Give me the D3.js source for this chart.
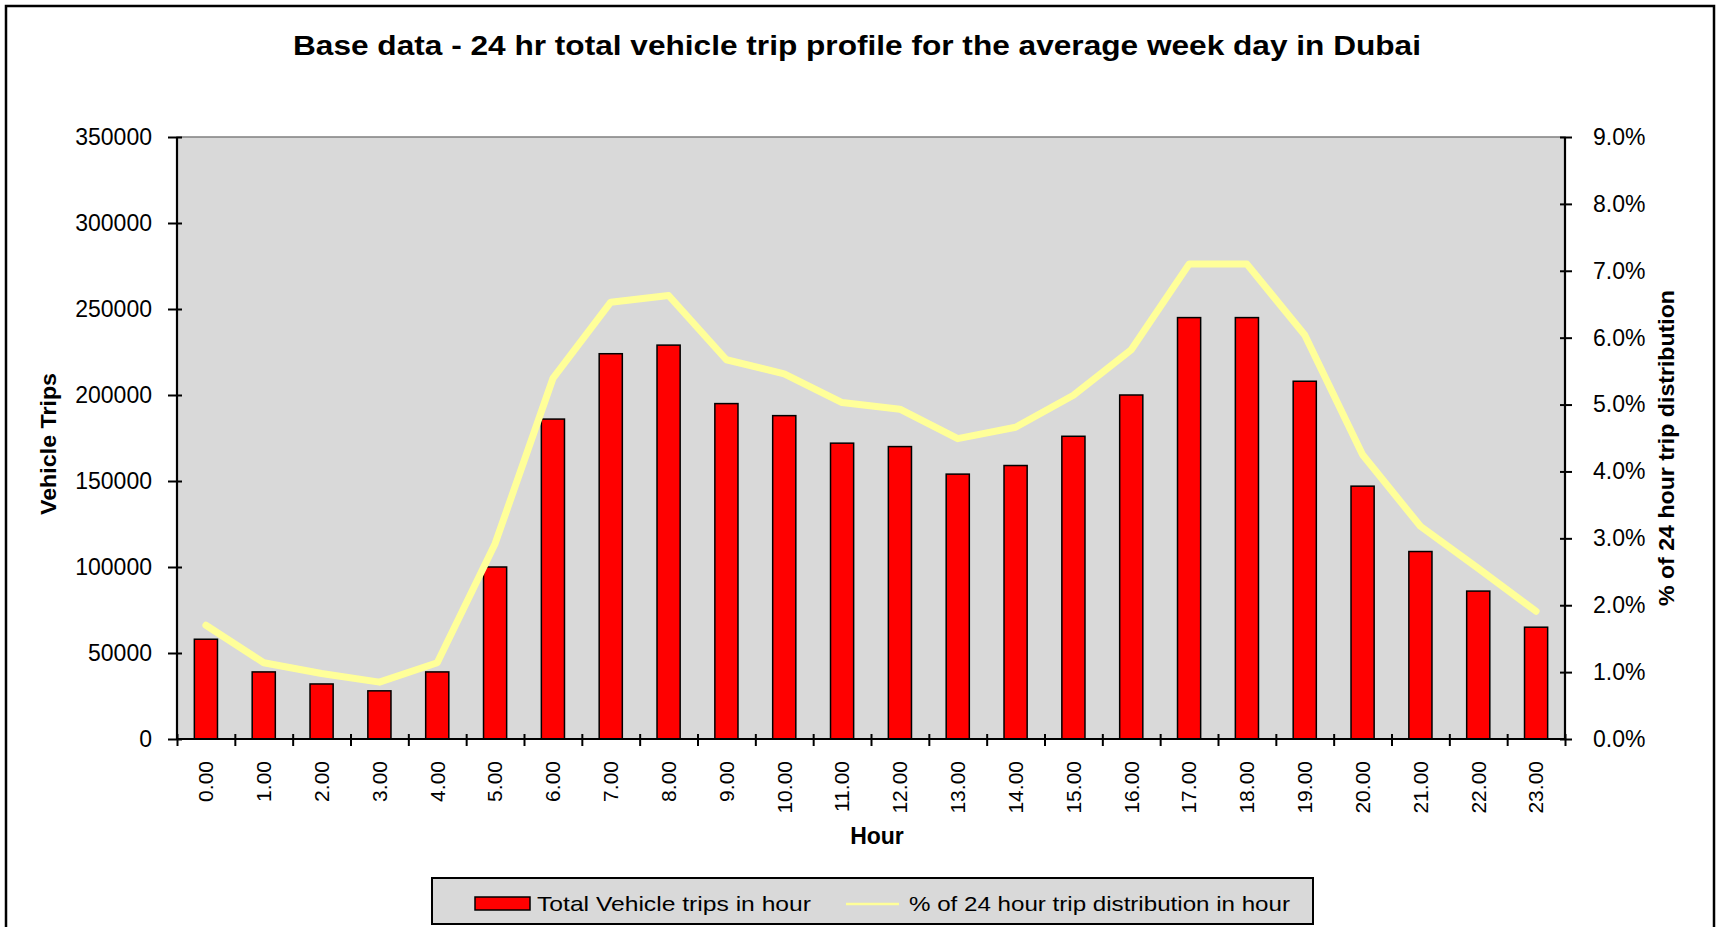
<html>
<head>
<title>Dubai trip profile</title>
<style>
  body { margin: 0; background-color: #ffffff; }
  svg { font-family: "Liberation Sans", Arial, sans-serif; }
</style>
<script src="https://d3js.org/d3.v7.min.js" charset="utf-8"></script>
</head>
<body>
<div id="chartDiv"></div>

<script type="text/javascript">

    // hours on the x axis
    var hours = ["0.00","1.00","2.00","3.00","4.00","5.00","6.00","7.00","8.00","9.00","10.00","11.00",
                 "12.00","13.00","14.00","15.00","16.00","17.00","18.00","19.00","20.00","21.00","22.00","23.00"];

    // Total vehicle trips in hour (bars, left axis)
    var trips = [58000, 39000, 32000, 28000, 39000, 100000, 186000, 224000, 229000, 195000, 188000, 172000,
                 170000, 154000, 159000, 176000, 200000, 245000, 245000, 208000, 147000, 109000, 86000, 65000];

    // % of 24 hour trip distribution in hour (line, right axis)
    var pct = [1.70, 1.14, 0.98, 0.85, 1.14, 2.92, 5.39, 6.53, 6.63, 5.67, 5.46, 5.03,
               4.93, 4.49, 4.66, 5.14, 5.82, 7.10, 7.10, 6.04, 4.25, 3.18, 2.55, 1.91];

    var leftTicks = [0, 50000, 100000, 150000, 200000, 250000, 300000, 350000];
    var rightTicks = [0, 1, 2, 3, 4, 5, 6, 7, 8, 9];

    var W = 1719, H = 927;
    var plot = {left: 177, right: 1565, top: 137, bottom: 739};

    var barColor = "#ff0000";
    var lineColor = "#ffff99";
    var plotBg = "#d9d9d9";

    var svg = d3.select("#chartDiv").append("svg")
        .attr("width", W)
        .attr("height", H);

    // outer chart frame
    svg.append("rect")
        .attr("x", 6).attr("y", 6)
        .attr("width", 1708).attr("height", 940)
        .attr("fill", "#ffffff")
        .attr("stroke", "#000000")
        .attr("stroke-width", 2.5);

    // scales
    var x = d3.scaleBand().domain(hours).range([plot.left, plot.right])
        .paddingInner(0.6).paddingOuter(0.3);
    var xEdge = d3.scaleLinear().domain([0, hours.length]).range([plot.left, plot.right]);
    var yL = d3.scaleLinear().domain([0, 350000]).range([plot.bottom, plot.top]);
    var yR = d3.scaleLinear().domain([0, 9]).range([plot.bottom, plot.top]);

    // plot area background
    svg.append("rect")
        .attr("x", plot.left).attr("y", plot.top)
        .attr("width", plot.right - plot.left)
        .attr("height", plot.bottom - plot.top)
        .attr("fill", plotBg)
        .attr("stroke", "#808080")
        .attr("stroke-width", 1.5);

    // bars
    svg.selectAll("rect.bar")
        .data(trips)
        .enter()
        .append("rect")
        .attr("class", "bar")
        .attr("x", function(d, i) { return x(hours[i]); })
        .attr("width", x.bandwidth())
        .attr("y", function(d) { return yL(d); })
        .attr("height", function(d) { return yL(0) - yL(d); })
        .attr("fill", barColor)
        .attr("stroke", "#000000")
        .attr("stroke-width", 1.5);

    // % line
    var line = d3.line()
        .x(function(d, i) { return x(hours[i]) + x.bandwidth() / 2; })
        .y(function(d) { return yR(d); });

    svg.append("path")
        .datum(pct)
        .attr("d", line)
        .attr("fill", "none")
        .attr("stroke", lineColor)
        .attr("stroke-width", 7)
        .attr("stroke-linejoin", "round")
        .attr("stroke-linecap", "round");

    // left axis
    var gL = svg.append("g")
        .attr("transform", "translate(" + plot.left + ",0)")
        .call(d3.axisLeft(yL).tickValues(leftTicks).tickSize(9).tickPadding(16).tickFormat(d3.format("d")));
    gL.selectAll(".tick line").attr("x1", 5);
    gL.selectAll("text").attr("font-size", "23px").attr("fill", "#000").style("font-family", "Liberation Sans, Arial, sans-serif");

    // right axis
    var gR = svg.append("g")
        .attr("transform", "translate(" + plot.right + ",0)")
        .call(d3.axisRight(yR).tickValues(rightTicks).tickSize(7).tickPadding(21)
            .tickFormat(function(d) { return d.toFixed(1) + "%"; }));
    gR.selectAll(".tick line").attr("x1", -5);
    gR.selectAll("text").attr("font-size", "23px").attr("fill", "#000").style("font-family", "Liberation Sans, Arial, sans-serif");

    // bottom axis: ticks on category edges
    var gB = svg.append("g")
        .attr("transform", "translate(0," + plot.bottom + ")")
        .call(d3.axisBottom(xEdge).tickValues(d3.range(hours.length + 1)).tickSize(7).tickFormat(""));
    gB.selectAll(".tick line").attr("y1", -5);

    [gL, gR, gB].forEach(function(g) {
        g.select(".domain").attr("stroke", "#000").attr("stroke-width", 2.2);
        g.selectAll(".tick line").attr("stroke", "#000").attr("stroke-width", 2);
    });
    gL.select(".domain").attr("d", "M0," + plot.bottom + "V" + plot.top);
    gR.select(".domain").attr("d", "M0," + plot.bottom + "V" + plot.top);
    gB.select(".domain").attr("d", "M" + plot.left + ",0H" + plot.right);

    // hour labels, rotated
    svg.selectAll("text.hourLabel")
        .data(hours)
        .enter()
        .append("text")
        .attr("class", "hourLabel")
        .attr("transform", function(d) { return "translate(" + (x(d) + x.bandwidth() / 2) + ",761) rotate(-90)"; })
        .attr("dy", "0.35em")
        .attr("text-anchor", "end")
        .attr("font-size", "21px")
        .text(function(d) { return d; });

    // title
    svg.append("text")
        .attr("x", 293).attr("y", 55)
        .attr("font-size", "27px")
        .attr("font-weight", "bold")
        .attr("textLength", 1128)
        .attr("lengthAdjust", "spacingAndGlyphs")
        .text("Base data - 24 hr total vehicle trip profile for the average week day in Dubai");

    // axis titles
    svg.append("text")
        .attr("transform", "translate(56,444) rotate(-90)")
        .attr("text-anchor", "middle")
        .attr("font-size", "22px")
        .attr("font-weight", "bold")
        .attr("textLength", 142)
        .attr("lengthAdjust", "spacingAndGlyphs")
        .text("Vehicle Trips");

    svg.append("text")
        .attr("transform", "translate(1674,448) rotate(-90)")
        .attr("text-anchor", "middle")
        .attr("font-size", "22px")
        .attr("font-weight", "bold")
        .attr("textLength", 316)
        .attr("lengthAdjust", "spacingAndGlyphs")
        .text("% of 24 hour trip distribution");

    svg.append("text")
        .attr("x", 877).attr("y", 844)
        .attr("text-anchor", "middle")
        .attr("font-size", "23px")
        .attr("font-weight", "bold")
        .text("Hour");

    // legend
    var legend = svg.append("g");
    legend.append("rect")
        .attr("x", 432).attr("y", 878)
        .attr("width", 881).attr("height", 46)
        .attr("fill", plotBg)
        .attr("stroke", "#000")
        .attr("stroke-width", 2);
    legend.append("rect")
        .attr("x", 475).attr("y", 897)
        .attr("width", 55).attr("height", 13)
        .attr("fill", barColor)
        .attr("stroke", "#000")
        .attr("stroke-width", 1.5);
    legend.append("text")
        .attr("x", 537).attr("y", 911)
        .attr("font-size", "21px")
        .attr("textLength", 274)
        .attr("lengthAdjust", "spacingAndGlyphs")
        .text("Total Vehicle trips in hour");
    legend.append("line")
        .attr("x1", 846).attr("x2", 899)
        .attr("y1", 904).attr("y2", 904)
        .attr("stroke", lineColor)
        .attr("stroke-width", 2.5);
    legend.append("text")
        .attr("x", 909).attr("y", 911)
        .attr("font-size", "21px")
        .attr("textLength", 381)
        .attr("lengthAdjust", "spacingAndGlyphs")
        .text("% of 24 hour trip distribution in hour");

</script>
</body>
</html>
